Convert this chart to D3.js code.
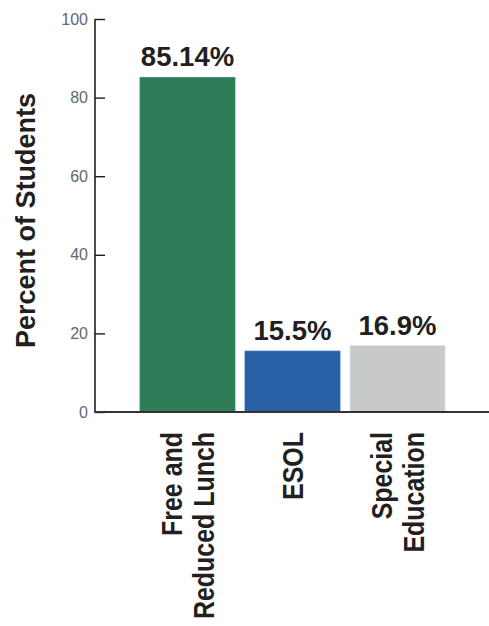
<!DOCTYPE html>
<html>
<head>
<meta charset="utf-8">
<script src="https://cdn.jsdelivr.net/npm/d3@7"></script>
<style>
  html, body { margin: 0; padding: 0; background: #fff; }
  svg { display: block; }
  text { font-family: "Liberation Sans", Arial, Helvetica, sans-serif; }
</style>
</head>
<body>
<svg id="chart" width="489" height="626"></svg>
<script>
// ---- data ----
const categories = [["Free and", "Reduced Lunch"], ["ESOL"], ["Special", "Education"]];
const values = [85.14, 15.5, 16.9];
const valueLabels = ["85.14%", "15.5%", "16.9%"];
const barColors = ["#2f7d58", "#2760a5", "#c8c9cb"];
const yTicks = [0, 20, 40, 60, 80, 100];
const yTitle = "Percent of Students";

// ---- layout ----
const W = 489, H = 626;
const svg = d3.select("#chart");
const axisX = 95, y0 = 412, y100 = 19;

const keys = categories.map((c, i) => i);
const x = d3.scaleBand().domain(keys).range([135, 450])
  .paddingInner(10 / 105).paddingOuter(5 / 105);
const y = d3.scaleLinear().domain([0, 100]).range([y0, y100]);

const ink = "#231f20";

// bars
svg.append("g").selectAll("rect").data(values).join("rect")
  .attr("x", (d, i) => x(i))
  .attr("y", d => y(d))
  .attr("width", x.bandwidth())
  .attr("height", d => y(0) - y(d))
  .attr("fill", (d, i) => barColors[i])
  .attr("stroke", (d, i) => d3.color(barColors[i]).brighter(0.35))
  .attr("stroke-width", 0.8);

// y axis (ticks pointing right)
const yAxis = d3.axisRight(y).tickValues(yTicks).tickSize(10).tickFormat("");
const gy = svg.append("g").attr("transform", `translate(${axisX},0)`).call(yAxis);
gy.select(".domain").remove();
gy.selectAll(".tick line").attr("stroke", ink).attr("stroke-width", 1.4);
gy.append("line").attr("x1", 0).attr("x2", 0).attr("y1", y(100)).attr("y2", y(0))
  .attr("stroke", ink).attr("stroke-width", 1.6);

// tick labels
svg.append("g").selectAll("text").data(yTicks).join("text")
  .attr("x", axisX - 7)
  .attr("y", d => y(d))
  .attr("dy", "0.35em")
  .attr("text-anchor", "end")
  .attr("font-size", 16)
  .attr("fill", "#5d6878")
  .text(d => d);

// x axis line
svg.append("line")
  .attr("x1", axisX - 0.8).attr("x2", W)
  .attr("y1", y(0)).attr("y2", y(0))
  .attr("stroke", "#333").attr("stroke-width", 2);

// value labels
svg.append("g").selectAll("text").data(values).join("text")
  .attr("x", (d, i) => x(i) + x.bandwidth() / 2)
  .attr("y", d => y(d) - 11)
  .attr("text-anchor", "middle")
  .attr("font-size", 27.5)
  .attr("font-weight", "bold")
  .attr("fill", ink)
  .text((d, i) => valueLabels[i]);

// category labels (rotated, two lines)
const lineGap = 32;
const catG = svg.append("g");
categories.forEach((lines, i) => {
  const cx = x(i) + x.bandwidth() / 2;
  const n = lines.length;
  lines.forEach((ln, j) => {
    const bx = cx + 10.5 + (j - (n - 1) / 2) * lineGap;
    const t = catG.append("text")
      .attr("transform", `translate(${bx},432) rotate(-90)`)
      .attr("text-anchor", "end")
      .attr("font-size", 29)
      .attr("font-weight", "bold")
      .attr("fill", ink)
      .text(ln);
    const L = t.node().getComputedTextLength();
    t.attr("textLength", L * 0.86).attr("lengthAdjust", "spacingAndGlyphs");
  });
});

// y title
const yt = svg.append("text")
  .attr("transform", `translate(35,${(93 + 348) / 2}) rotate(-90)`)
  .attr("text-anchor", "middle")
  .attr("font-size", 28)
  .attr("font-weight", "bold")
  .attr("fill", ink)
  .text(yTitle);
yt.attr("textLength", 255).attr("lengthAdjust", "spacingAndGlyphs");
</script>
</body>
</html>
